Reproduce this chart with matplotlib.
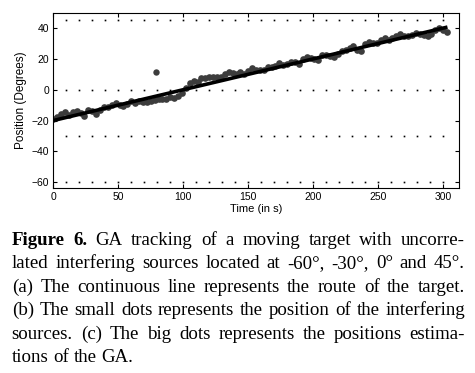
import matplotlib
matplotlib.use("Agg")
import matplotlib.pyplot as plt
import numpy as np

# target route (continuous line)
route_t = [0, 302]
route_deg = [-20.0, 40.4]

# interfering sources (small dots)
interf_deg = [-60, -30, 0, 45]
interf_t = list(range(10, 301, 10))

# GA estimates (big dots)
est_t = list(range(0, 304, 3))
est_deg = [-19.0, -17.4, -15.8, -14.7, -16.6, -14.5, -13.9, -15.3, -17.2, -13.1,
           -14.0, -15.9, -13.3, -11.2, -11.1, -10.0, -8.9, -9.8, -10.7, -9.1,
           -7.5, -8.4, -7.3, -7.7, -8.1, -7.5, -6.4, -6.3, -6.2, -6.1,
           -4.5, -5.4, -3.8, -2.2, 1.4, 4.5, 5.6, 5.2, 7.8, 7.9,
           8.0, 8.1, 8.2, 8.3, 9.9, 11.5, 10.6, 10.2, 11.3, 10.4,
           12.0, 14.1, 12.7, 12.8, 12.9, 14.5, 14.6, 15.7, 17.3, 15.9,
           17.0, 18.1, 18.2, 16.8, 19.9, 21.0, 20.6, 20.2, 19.3, 22.4,
           22.5, 21.6, 21.2, 23.3, 24.9, 26.0, 27.1, 28.7, 25.8, 25.4,
           29.5, 31.1, 30.2, 30.3, 32.4, 33.5, 32.6, 33.7, 34.8, 35.9,
           35.0, 35.1, 35.2, 36.8, 35.9, 35.5, 35.1, 36.2, 38.8, 39.9,
           39.0, 37.6]
outlier_t = [79]
outlier_deg = [11.2]

caption = [
    [("Figure", True), ("6.", True), ("GA", False), ("tracking", False), ("of", False),
     ("a", False), ("moving", False), ("target", False), ("with", False), ("uncorre-", False)],
    "lated interfering sources located at -60°, -30°, 0° and 45°.",
    "(a) The continuous line represents the route of the target.",
    "(b) The small dots represents the position of the interfering",
    "sources.  (c) The big dots represents the positions estima-",
    "tions of the GA.",
]

W, H = 475, 373
fig = plt.figure(figsize=(W / 100, H / 100), dpi=100)
ax = fig.add_axes([53.3 / W, 1 - 188.3 / H, (458.7 - 53.3) / W, (188.3 - 12.7) / H])

for d in interf_deg:
    ax.plot(interf_t, [d] * len(interf_t), ls="none", marker="s", ms=1.2,
            color="black", mew=0)
ax.plot(est_t, est_deg, ls="none", marker="o", ms=4.8, color="#3c3c3c", mew=0, zorder=2)
ax.plot(outlier_t, outlier_deg, ls="none", marker="o", ms=4.6, color="#3c3c3c", mew=0, zorder=2)
ax.plot(route_t, route_deg, color="black", lw=2.6, zorder=3)

ax.set_xlim(0, 312)
ax.set_ylim(-64, 50)
ax.set_xticks([0, 50, 100, 150, 200, 250, 300])
ax.set_yticks([-60, -40, -20, 0, 20, 40])
ax.tick_params(direction="in", top=True, right=True, length=3, width=0.8,
               labelsize=7.5, pad=3)
for lab in ax.get_xticklabels() + ax.get_yticklabels():
    lab.set_family("Liberation Sans")
for s in ax.spines.values():
    s.set_linewidth(0.8)
ax.set_xlabel("Time (in s)", family="Liberation Sans", fontsize=8, labelpad=1)
ax.set_ylabel("Position (Degrees)", family="Liberation Sans", fontsize=8.5, labelpad=3)

# justified caption, placed word by word
renderer = fig.canvas.get_renderer()
x_left, x_right = 11.7, 465.0
base0, step = 245.0, 23.4
fsize = 13.6
for i, line in enumerate(caption):
    if isinstance(line, str):
        words = [(w, False) for w in line.split()]
    else:
        words = line
    y = 1 - (base0 + i * step) / H
    texts = []
    for w, bold in words:
        t = fig.text(0, y, w, family="Liberation Serif", fontsize=fsize,
                     weight="bold" if bold else "normal", va="baseline", ha="left")
        texts.append(t)
    widths = [t.get_window_extent(renderer).width for t in texts]
    last = i == len(caption) - 1
    if last:
        gap = fsize * 100 / 72 * 0.25
    else:
        gap = (x_right - x_left - sum(widths)) / (len(texts) - 1)
    x = x_left
    for t, wd in zip(texts, widths):
        t.set_x(x / W)
        x += wd + gap

fig.savefig("out.png", dpi=100)
